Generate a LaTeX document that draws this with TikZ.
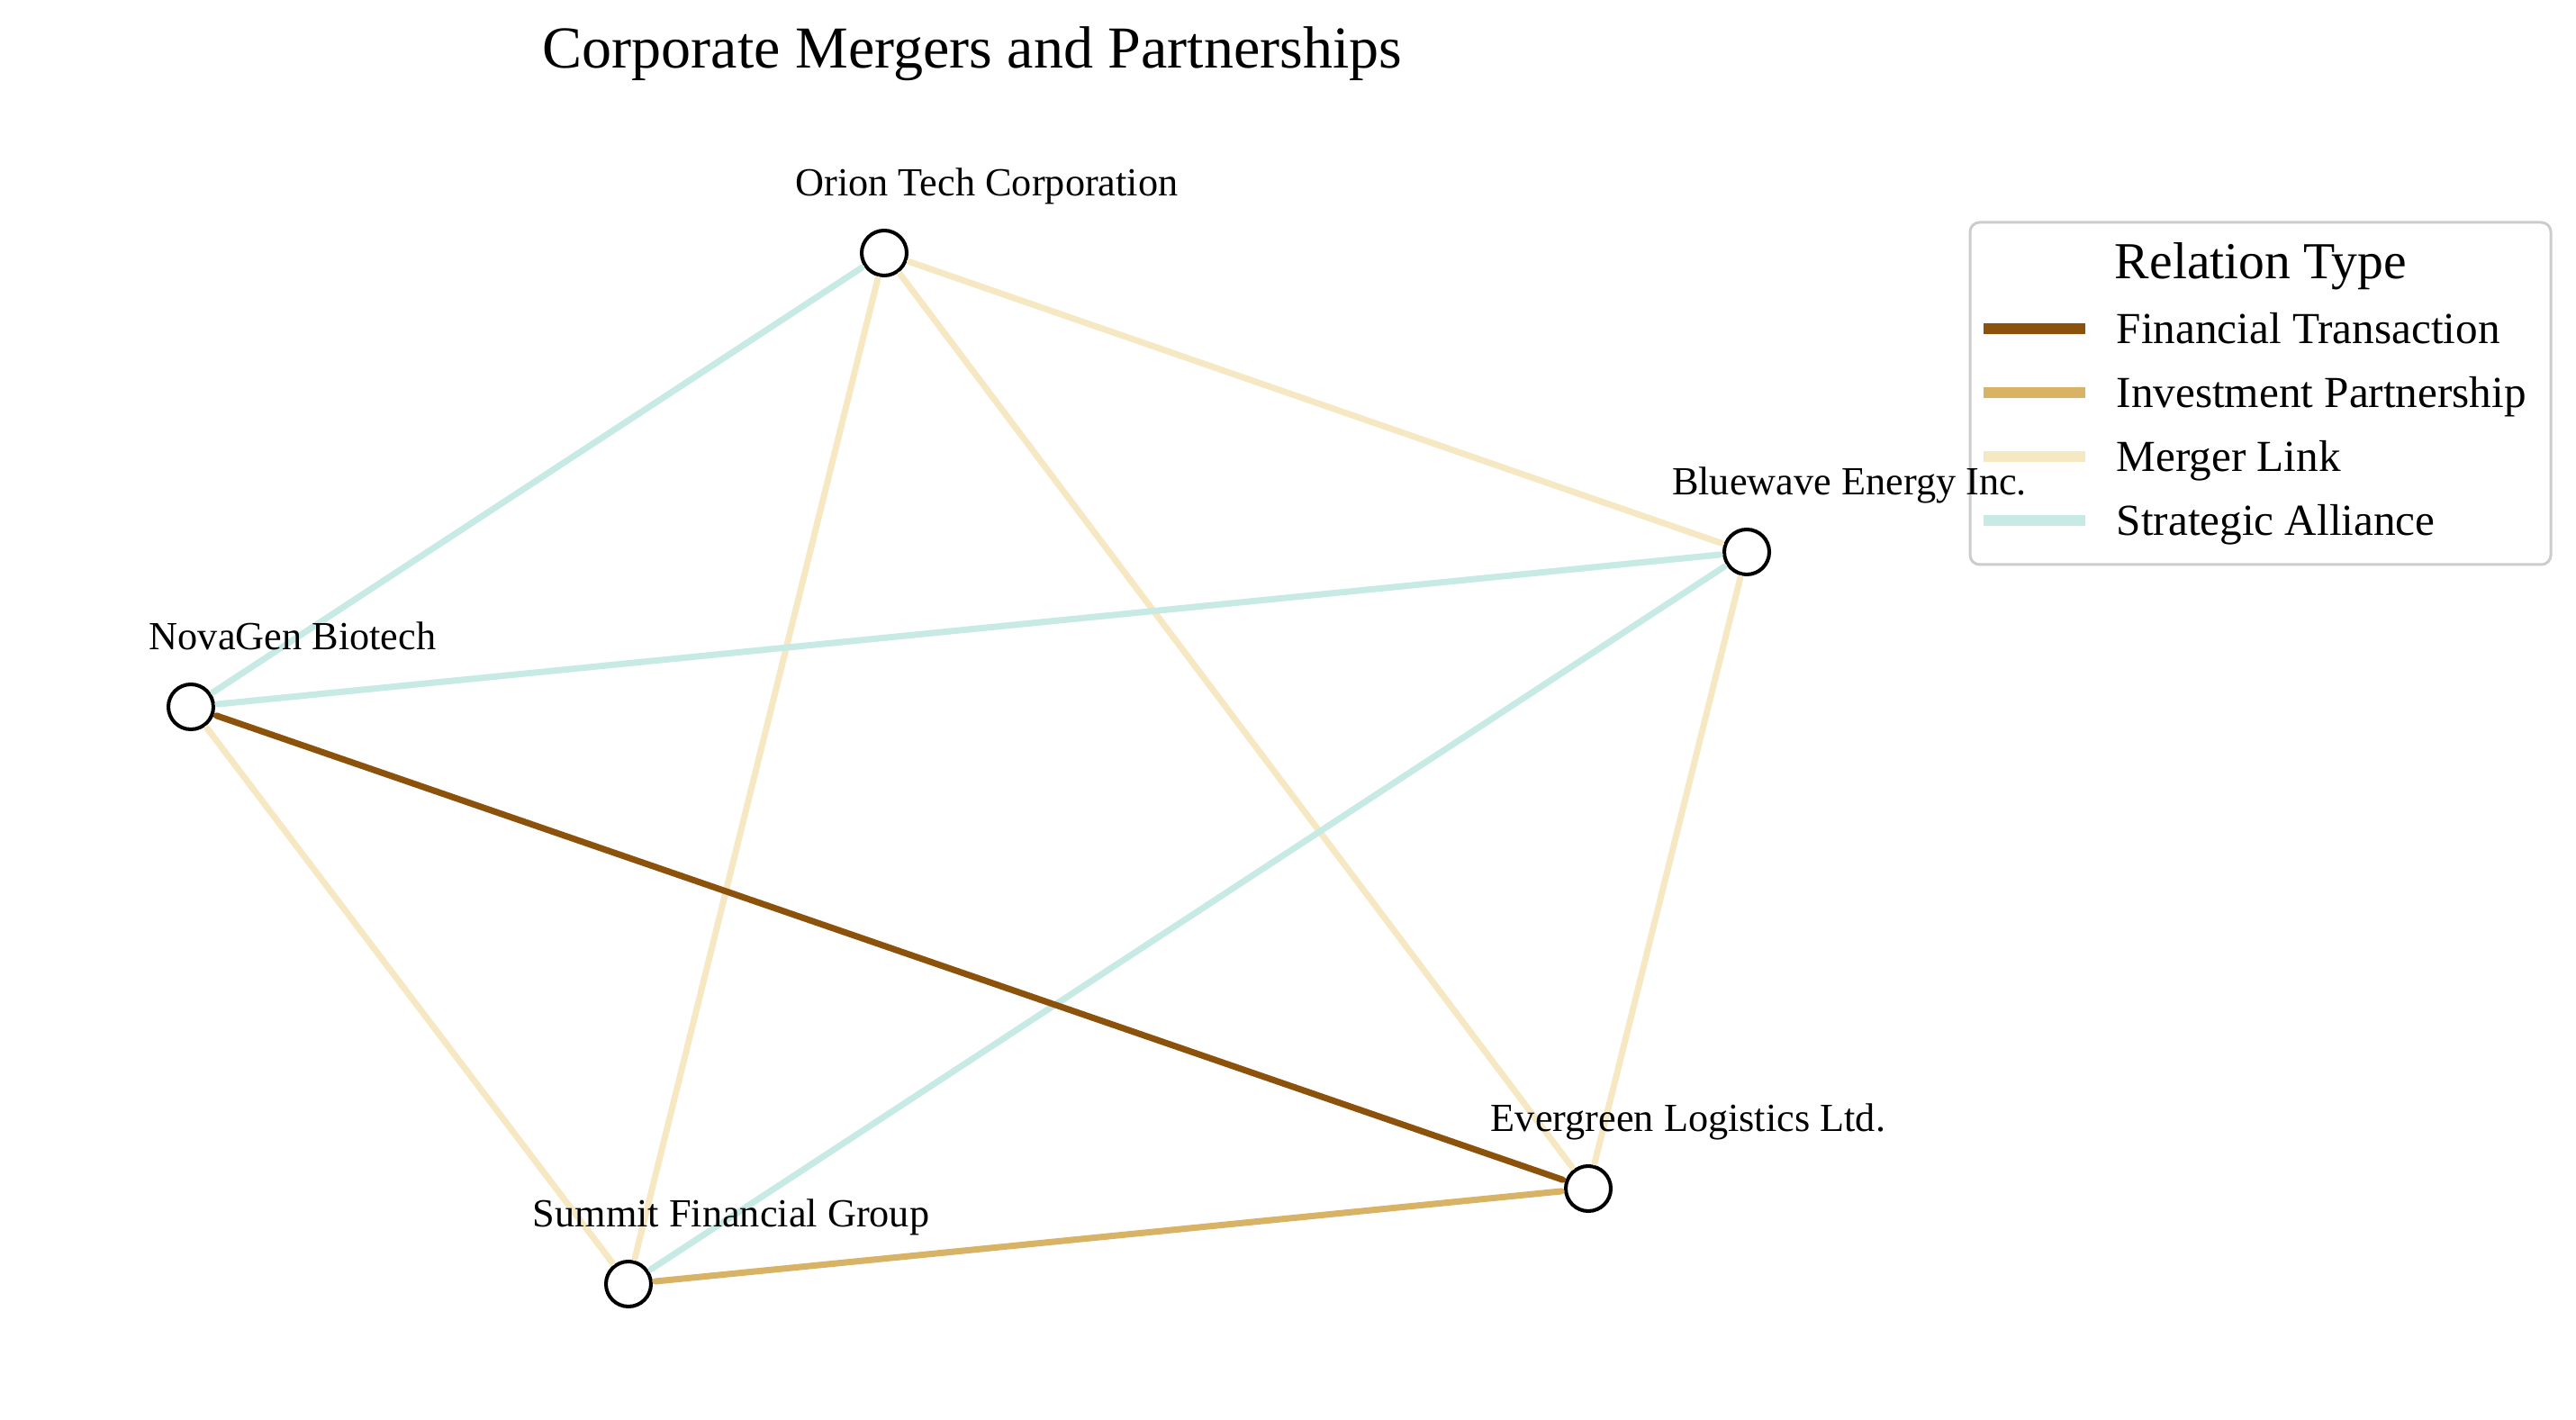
\documentclass[tikz,border=0pt]{standalone}
\usepackage{fontspec}
\setmainfont{Liberation Serif}
\usetikzlibrary{positioning}

\definecolor{finbrown}{HTML}{8C510A}
\definecolor{invgold}{HTML}{D8B365}
\definecolor{mergecream}{HTML}{F6E8C3}
\definecolor{allyteal}{HTML}{C7EAE5}

\begin{document}
\begin{tikzpicture}[
      company/.style={circle, draw=black, line width=1.15pt, fill=white,
        minimum size=0.5cm, inner sep=0pt, outer sep=0.05cm},
      compname/.style={anchor=base, font=\fontsize{12.6}{15}\selectfont, inner sep=0pt},
      link/.style={line width=2pt, line cap=round},
      financial/.style={link, draw=finbrown},
      investment/.style={link, draw=invgold},
      merger/.style={link, draw=mergecream},
      alliance/.style={link, draw=allyteal},
      legline/.style={line width=3.2pt},
      legtext/.style={anchor=base west, font=\fontsize{14}{17}\selectfont, inner sep=0pt}
    ]
    \useasboundingbox (0,0) rectangle (28.61,15.76);

    \node[anchor=base, font=\fontsize{18.8}{22}\selectfont] (title) at (10.80,15.00)
      {Corporate Mergers and Partnerships};

    \node[company] (orion) at (9.82,12.95) {};
    \node[company] (bluewave) at (19.40,9.63) {};
    \node[company] (novagen) at (2.12,7.91) {};
    \node[company] (evergreen) at (17.64,2.56) {};
    \node[company] (summit) at (6.98,1.50) {};

    \draw[alliance] (orion) -- (novagen);
    \draw[merger] (orion) -- (summit);
    \draw[merger] (orion) -- (evergreen);
    \draw[merger] (orion) -- (bluewave);
    \draw[alliance] (bluewave) -- (novagen);
    \draw[alliance] (bluewave) -- (summit);
    \draw[merger] (bluewave) -- (evergreen);
    \draw[financial] (novagen) -- (evergreen);
    \draw[merger] (novagen) -- (summit);
    \draw[investment] (summit) -- (evergreen);

    \node[draw=black!20, line width=0.85pt, rounded corners=3pt, fill=white, fill opacity=0.8,
      text opacity=1, minimum width=6.45cm, minimum height=3.80cm] (legend) at (25.105,11.39) {};
    \node[anchor=base, font=\fontsize{16.4}{19}\selectfont] (legend-title) at (25.11,12.66) {Relation Type};
    \foreach \i/\y/\sty/\txt in {1/11.94/finbrown/Financial Transaction,
                                 2/11.23/invgold/Investment Partnership,
                                 3/10.52/mergecream/Merger Link,
                                 4/9.81/allyteal/Strategic Alliance} {
      \coordinate (leg-a\i) at (22.03,\y+0.17);
      \coordinate (leg-b\i) at (23.16,\y+0.17);
      \draw[legline, draw=\sty] (leg-a\i) -- (leg-b\i);
      \node[legtext] (leg-\i) at (23.50,\y) {\txt};
    }

    \node[compname] (orion-name) at ([xshift=1.14cm,yshift=0.63cm]orion.center) {Orion Tech Corporation};
    \node[compname] (bluewave-name) at ([xshift=1.14cm,yshift=0.63cm]bluewave.center) {Bluewave Energy Inc.};
    \node[compname] (novagen-name) at ([xshift=1.13cm,yshift=0.63cm]novagen.center) {NovaGen Biotech};
    \node[compname] (evergreen-name) at ([xshift=1.11cm,yshift=0.63cm]evergreen.center) {Evergreen Logistics Ltd.};
    \node[compname] (summit-name) at ([xshift=1.14cm,yshift=0.63cm]summit.center) {Summit Financial Group};
  \end{tikzpicture}
\end{document}
